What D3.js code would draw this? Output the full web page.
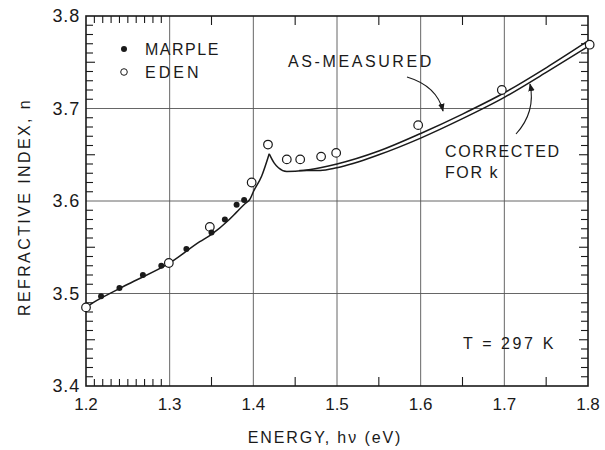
<!DOCTYPE html>
<html>
<head>
<meta charset="utf-8">
<script src="https://cdn.jsdelivr.net/npm/d3@7"></script>
<style>
  html, body { margin: 0; padding: 0; background: #fff; }
  svg text { font-family: "Liberation Sans", Arial, sans-serif; fill: #1a1a1a; }
</style>
</head>
<body>
<svg id="chart" width="605" height="450"></svg>
<script>
// Refractive index of GaAs near the band edge, T = 297 K
const marpleEnergy = [1.218, 1.240, 1.268, 1.290, 1.320, 1.350, 1.366, 1.380, 1.389];
const marpleIndex  = [3.497, 3.506, 3.520, 3.530, 3.548, 3.566, 3.580, 3.596, 3.601];

const edenEnergy = [1.200, 1.299, 1.348, 1.398, 1.4175, 1.440, 1.456, 1.481, 1.499, 1.597, 1.697, 1.802];
const edenIndex  = [3.485, 3.533, 3.572, 3.620, 3.661, 3.645, 3.645, 3.648, 3.652, 3.682, 3.720, 3.769];

// As-measured curve: rising edge up to the exciton peak, then the falling / slowly rising branch
const measuredRiseEnergy = [1.200, 1.210, 1.220, 1.250, 1.300, 1.336, 1.350, 1.370, 1.380, 1.390, 1.396, 1.400, 1.410, 1.419];
const measuredRiseIndex  = [3.485, 3.491, 3.496, 3.510, 3.533, 3.556, 3.564, 3.579, 3.588, 3.597, 3.602, 3.610, 3.627, 3.651];
const measuredTailEnergy = [1.419, 1.425, 1.430, 1.440, 1.460, 1.480, 1.500, 1.550, 1.600, 1.650, 1.700, 1.750, 1.800];
const measuredTailIndex  = [3.651, 3.641, 3.636, 3.632, 3.633, 3.636, 3.640, 3.654, 3.673, 3.694, 3.717, 3.744, 3.773];

// Curve corrected for absorption (k)
const correctedEnergy = [1.455, 1.480, 1.500, 1.550, 1.600, 1.650, 1.700, 1.750, 1.800];
const correctedIndex  = [3.633, 3.633, 3.636, 3.650, 3.668, 3.689, 3.712, 3.739, 3.767];

const xMajor = [1.2, 1.3, 1.4, 1.5, 1.6, 1.7, 1.8];
const xTickLabels = ["1.2", "1.3", "1.4", "1.5", "1.6", "1.7", "1.8"];
const yMajor = [3.4, 3.5, 3.6, 3.7, 3.8];
const yTickLabels = ["3.4", "3.5", "3.6", "3.7", "3.8"];

const svg = d3.select("#chart");
const L = 86, R = 588, T = 16, B = 386;
const x = d3.scaleLinear().domain([1.2, 1.8]).range([L, R]);
const y = d3.scaleLinear().domain([3.4, 3.8]).range([B, T]);
const ink = "#1a1a1a";

// grid
const grid = svg.append("g").attr("stroke", "#555").attr("stroke-width", 0.9);
xMajor.slice(1, -1).forEach(v => grid.append("line")
  .attr("x1", x(v)).attr("x2", x(v)).attr("y1", T).attr("y2", B));
yMajor.slice(1, -1).forEach(v => grid.append("line")
  .attr("x1", L).attr("x2", R).attr("y1", y(v)).attr("y2", y(v)));

// minor ticks
const tk = svg.append("g").attr("stroke", ink).attr("stroke-width", 1.1);
const xFine = d3.range(1, 10).map(i => 1.2 + i * 0.01);
const xHalf = [1.35, 1.45, 1.55, 1.65, 1.75];
xFine.forEach(v => {
  tk.append("line").attr("x1", x(v)).attr("x2", x(v)).attr("y1", B).attr("y2", B - 7);
  tk.append("line").attr("x1", x(v)).attr("x2", x(v)).attr("y1", T).attr("y2", T + 7);
});
xHalf.forEach(v => {
  tk.append("line").attr("x1", x(v)).attr("x2", x(v)).attr("y1", B).attr("y2", B - 9);
  tk.append("line").attr("x1", x(v)).attr("x2", x(v)).attr("y1", T).attr("y2", T + 9);
});
d3.range(1, 40).map(i => 3.4 + i * 0.01).forEach((v, i) => {
  if ((i + 1) % 10 === 0) return;
  const len = (i + 1) % 5 === 0 ? 9 : 7;
  tk.append("line").attr("x1", L).attr("x2", L + len).attr("y1", y(v)).attr("y2", y(v));
  tk.append("line").attr("x1", R).attr("x2", R - len).attr("y1", y(v)).attr("y2", y(v));
});

// frame
svg.append("rect").attr("x", L).attr("y", T).attr("width", R - L).attr("height", B - T)
  .attr("fill", "none").attr("stroke", ink).attr("stroke-width", 1.6);

// tick labels
xMajor.forEach((v, i) => svg.append("text")
  .attr("x", x(v)).attr("y", 410).attr("text-anchor", "middle")
  .attr("font-size", 17).text(xTickLabels[i]));
yMajor.forEach((v, i) => svg.append("text")
  .attr("x", 80).attr("y", y(v) + 6).attr("text-anchor", "end")
  .attr("font-size", 18).attr("letter-spacing", 0.8).text(yTickLabels[i]));

// axis titles
svg.append("text").attr("x", 325).attr("y", 443).attr("text-anchor", "middle")
  .attr("font-size", 16).attr("letter-spacing", 1.9).text("ENERGY, hν (eV)");
svg.append("text").attr("transform", "translate(30,207) rotate(-90)")
  .attr("text-anchor", "middle").attr("font-size", 16).attr("letter-spacing", 2.4)
  .text("REFRACTIVE INDEX, n");

// curves
const line = d3.line().x(d => x(d[0])).y(d => y(d[1])).curve(d3.curveMonotoneX);
const zip = (a, b) => a.map((v, i) => [v, b[i]]);
const curves = svg.append("g").attr("fill", "none").attr("stroke", ink)
  .attr("stroke-width", 1.5).attr("stroke-linejoin", "round");
curves.append("path").attr("d", line(zip(measuredRiseEnergy, measuredRiseIndex)));
curves.append("path").attr("d", line(zip(measuredTailEnergy, measuredTailIndex)));
curves.append("path").attr("d", line(zip(correctedEnergy, correctedIndex)));

// data points
svg.append("g").selectAll("circle").data(zip(edenEnergy, edenIndex)).join("circle")
  .attr("cx", d => x(d[0])).attr("cy", d => y(d[1])).attr("r", 4.3)
  .attr("fill", "#fff").attr("stroke", ink).attr("stroke-width", 1.2);
svg.append("g").selectAll("circle").data(zip(marpleEnergy, marpleIndex)).join("circle")
  .attr("cx", d => x(d[0])).attr("cy", d => y(d[1])).attr("r", 3)
  .attr("fill", ink);

// legend
svg.append("circle").attr("cx", 124).attr("cy", 49).attr("r", 3).attr("fill", ink);
svg.append("text").attr("x", 145).attr("y", 55).attr("font-size", 16)
  .attr("letter-spacing", 1.5).text("MARPLE");
svg.append("circle").attr("cx", 124).attr("cy", 72).attr("r", 3.3)
  .attr("fill", "#fff").attr("stroke", ink).attr("stroke-width", 1);
svg.append("text").attr("x", 145).attr("y", 78).attr("font-size", 16)
  .attr("letter-spacing", 3).text("EDEN");

// annotations
svg.append("text").attr("x", 288).attr("y", 67).attr("font-size", 16)
  .attr("letter-spacing", 2.6).text("AS-MEASURED");
svg.append("text").attr("x", 445).attr("y", 157).attr("font-size", 16)
  .attr("letter-spacing", 1.6).text("CORRECTED");
svg.append("text").attr("x", 445).attr("y", 178).attr("font-size", 16)
  .attr("letter-spacing", 1.6).text("FOR k");
svg.append("text").attr("x", 463).attr("y", 349).attr("font-size", 16)
  .attr("letter-spacing", 2.6).text("T = 297 K");

// arrows
const defs = svg.append("defs");
defs.append("marker").attr("id", "ah").attr("viewBox", "0 0 10 10")
  .attr("refX", 9).attr("refY", 5).attr("markerWidth", 8).attr("markerHeight", 8)
  .attr("orient", "auto").attr("markerUnits", "userSpaceOnUse")
  .append("path").attr("d", "M0,1 L10,5 L0,9 Z").attr("fill", ink);
svg.append("path").attr("d", "M407,77 Q437,86 443,111")
  .attr("fill", "none").attr("stroke", ink).attr("stroke-width", 1.1).attr("marker-end", "url(#ah)");
svg.append("path").attr("d", "M516,134 Q536,112 530,84")
  .attr("fill", "none").attr("stroke", ink).attr("stroke-width", 1.1).attr("marker-end", "url(#ah)");
</script>
</body>
</html>
